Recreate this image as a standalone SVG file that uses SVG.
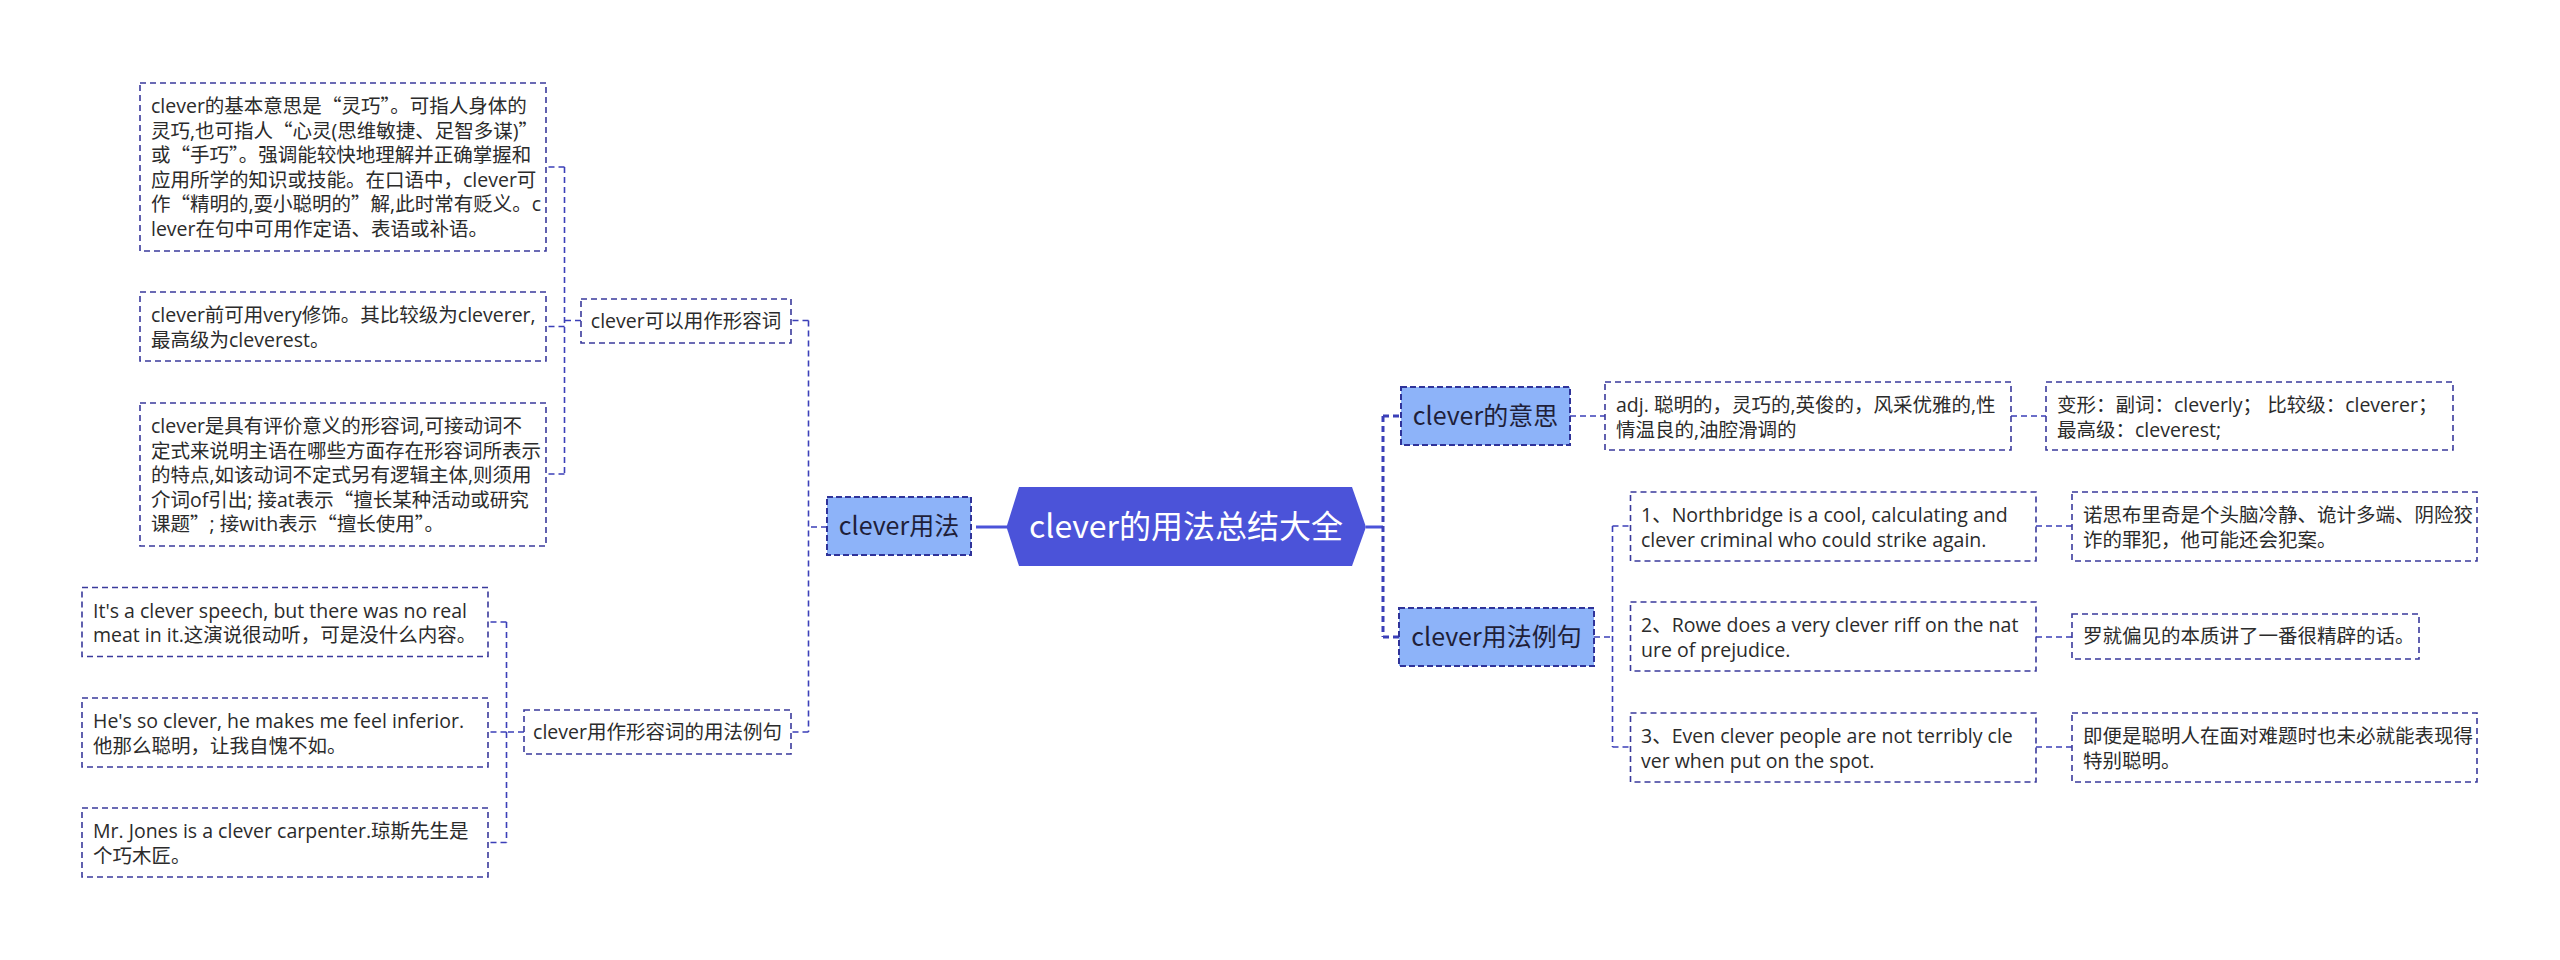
<svg xmlns="http://www.w3.org/2000/svg" width="2560" height="960" viewBox="0 0 2560 960">
<style>
text{font-family:"Noto Sans CJK SC","Liberation Sans",sans-serif;fill:#2b2b2b}
.leaf{fill:#ffffff;stroke:#3a3a9c;stroke-width:1.6;stroke-dasharray:6 4}
.l2{fill:#ffffff;stroke:#3a3a9c;stroke-width:1.6;stroke-dasharray:6 4}
.l1{fill:#8db3f9;stroke:#2f3399;stroke-width:2;stroke-dasharray:6 3}
.t18{font-size:19.5px;font-family:"Open Sans","Noto Sans CJK SC",sans-serif}
.q{font-family:"Noto Sans CJK SC",sans-serif}
.t25{font-size:25px;fill:#1f1f3a}
.root-t{font-size:32px;fill:#ffffff}
.c1{fill:none;stroke:#3b3fb8;stroke-width:3;stroke-dasharray:6 4}
.c2{fill:none;stroke:#3b3fb8;stroke-width:1.6;stroke-dasharray:6 4}
.solid{fill:none;stroke:#4b53d9;stroke-width:3}
</style>
<rect width="2560" height="960" fill="#ffffff"/>
<g id="connectors">
<path class="solid" d="M976 527 H1007"/>
<path class="solid" d="M1366 527 H1383"/>
<path class="c1" d="M1383 416 V637 M1383 416 H1401 M1383 637 H1399"/>
<path class="c2" d="M827 527 H808.5 M808.5 320.5 V732 M808.5 320.5 H791 M808.5 732 H791"/>
<path class="c2" d="M581 320.5 H564.5 M564.5 167 V474 M564.5 167 H546.5 M564.5 326.5 H546.5 M564.5 474 H546.5"/>
<path class="c2" d="M524 732 H506.5 M506.5 622 V842.5 M506.5 622 H488 M506.5 732 H488 M506.5 842.5 H488"/>
<path class="c2" d="M1570 416 H1605"/>
<path class="c2" d="M2011 416 H2046"/>
<path class="c2" d="M1594 637 H1612.5 M1612.5 526 V747 M1612.5 526 H1630.5 M1612.5 747 H1630.5"/>
<path class="c2" d="M2036 526 H2072 M2036 637 H2072 M2036 747 H2072"/>
</g>
<g id="root">
<polygon points="1006.5,527 1019,487 1352,487 1366,527 1352,566 1019,566" fill="#4b53d9"/>
<text class="root-t" x="1186" y="538" text-anchor="middle">clever的用法总结大全</text>
</g>
<g id="n-usage">
<rect class="l1" x="827" y="497" width="144" height="58"/>
<text class="t25" x="899" y="535" text-anchor="middle">clever用法</text>
</g>
<g id="n-meaning">
<rect class="l1" x="1401" y="387" width="169" height="58"/>
<text class="t25" x="1485.5" y="425" text-anchor="middle">clever的意思</text>
</g>
<g id="n-examples">
<rect class="l1" x="1399" y="608" width="195" height="58"/>
<text class="t25" x="1496.5" y="646" text-anchor="middle">clever用法例句</text>
</g>
<g id="n-adj">
<rect class="l2" x="581" y="299" width="210" height="44"/>
<text class="t18" x="686" y="328" text-anchor="middle">clever可以用作形容词</text>
</g>
<g id="n-adj-ex">
<rect class="l2" x="524" y="710" width="267" height="44"/>
<text class="t18" x="657.5" y="739" text-anchor="middle">clever用作形容词的用法例句</text>
</g>
<g id="a1">
<rect class="leaf" x="140" y="83" width="406" height="168"/>
<text class="t18"><tspan x="151" y="113">clever的基本意思是<tspan class="q">“</tspan>灵巧<tspan class="q">”</tspan>。可指人身体的</tspan><tspan x="151" y="137.5">灵巧,也可指人<tspan class="q">“</tspan>心灵(思维敏捷、足智多谋)<tspan class="q">”</tspan></tspan><tspan x="151" y="162">或<tspan class="q">“</tspan>手巧<tspan class="q">”</tspan>。强调能较快地理解并正确掌握和</tspan><tspan x="151" y="186.5">应用所学的知识或技能。在口语中，clever可</tspan><tspan x="151" y="211">作<tspan class="q">“</tspan>精明的,耍小聪明的<tspan class="q">”</tspan>解,此时常有贬义。c</tspan><tspan x="151" y="235.5">lever在句中可用作定语、表语或补语。</tspan></text>
</g>
<g id="a2">
<rect class="leaf" x="140" y="292" width="406" height="69"/>
<text class="t18"><tspan x="151" y="322">clever前可用very修饰。其比较级为cleverer,</tspan><tspan x="151" y="346.5">最高级为cleverest。</tspan></text>
</g>
<g id="a3">
<rect class="leaf" x="140" y="403" width="406" height="143"/>
<text class="t18"><tspan x="151" y="433">clever是具有评价意义的形容词,可接动词不</tspan><tspan x="151" y="457.5">定式来说明主语在哪些方面存在形容词所表示</tspan><tspan x="151" y="482">的特点,如该动词不定式另有逻辑主体,则须用</tspan><tspan x="151" y="506.5">介词of引出; 接at表示<tspan class="q">“</tspan>擅长某种活动或研究</tspan><tspan x="151" y="531">课题<tspan class="q">”</tspan>; 接with表示<tspan class="q">“</tspan>擅长使用<tspan class="q">”</tspan>。</tspan></text>
</g>
<g id="b1">
<rect class="leaf" x="82" y="587.5" width="406" height="69"/>
<text class="t18"><tspan x="93" y="617.5">It's a clever speech, but there was no real</tspan><tspan x="93" y="642">meat in it.这演说很动听，可是没什么内容。</tspan></text>
</g>
<g id="b2">
<rect class="leaf" x="82" y="698" width="406" height="69"/>
<text class="t18"><tspan x="93" y="728">He's so clever, he makes me feel inferior.</tspan><tspan x="93" y="752.5">他那么聪明，让我自愧不如。</tspan></text>
</g>
<g id="b3">
<rect class="leaf" x="82" y="808" width="406" height="69"/>
<text class="t18"><tspan x="93" y="838">Mr. Jones is a clever carpenter.琼斯先生是</tspan><tspan x="93" y="862.5">个巧木匠。</tspan></text>
</g>
<g id="def">
<rect class="leaf" x="1605" y="382" width="406" height="68"/>
<text class="t18"><tspan x="1616" y="412">adj. 聪明的，灵巧的,英俊的，风采优雅的,性</tspan><tspan x="1616" y="436.5">情温良的,油腔滑调的</tspan></text>
</g>
<g id="forms">
<rect class="leaf" x="2046" y="382" width="407" height="68"/>
<text class="t18"><tspan x="2057" y="412">变形：副词：cleverly； 比较级：cleverer；</tspan><tspan x="2057" y="436.5">最高级：cleverest;</tspan></text>
</g>
<g id="e1">
<rect class="leaf" x="1630.5" y="492" width="405.5" height="69"/>
<text class="t18"><tspan x="1641" y="522">1、Northbridge is a cool, calculating and</tspan><tspan x="1641" y="546.5">clever criminal who could strike again.</tspan></text>
</g>
<g id="t1">
<rect class="leaf" x="2072" y="492" width="405" height="69"/>
<text class="t18"><tspan x="2083" y="522">诺思布里奇是个头脑冷静、诡计多端、阴险狡</tspan><tspan x="2083" y="546.5">诈的罪犯，他可能还会犯案。</tspan></text>
</g>
<g id="e2">
<rect class="leaf" x="1630.5" y="602" width="405.5" height="69"/>
<text class="t18"><tspan x="1641" y="632">2、Rowe does a very clever riff on the nat</tspan><tspan x="1641" y="656.5">ure of prejudice.</tspan></text>
</g>
<g id="t2">
<rect class="leaf" x="2072" y="614" width="347" height="45"/>
<text class="t18" x="2083" y="643">罗就偏见的本质讲了一番很精辟的话。</text>
</g>
<g id="e3">
<rect class="leaf" x="1630.5" y="713" width="405.5" height="69"/>
<text class="t18"><tspan x="1641" y="743">3、Even clever people are not terribly cle</tspan><tspan x="1641" y="767.5">ver when put on the spot.</tspan></text>
</g>
<g id="t3">
<rect class="leaf" x="2072" y="713" width="405" height="69"/>
<text class="t18"><tspan x="2083" y="743">即便是聪明人在面对难题时也未必就能表现得</tspan><tspan x="2083" y="767.5">特别聪明。</tspan></text>
</g>
</svg>
